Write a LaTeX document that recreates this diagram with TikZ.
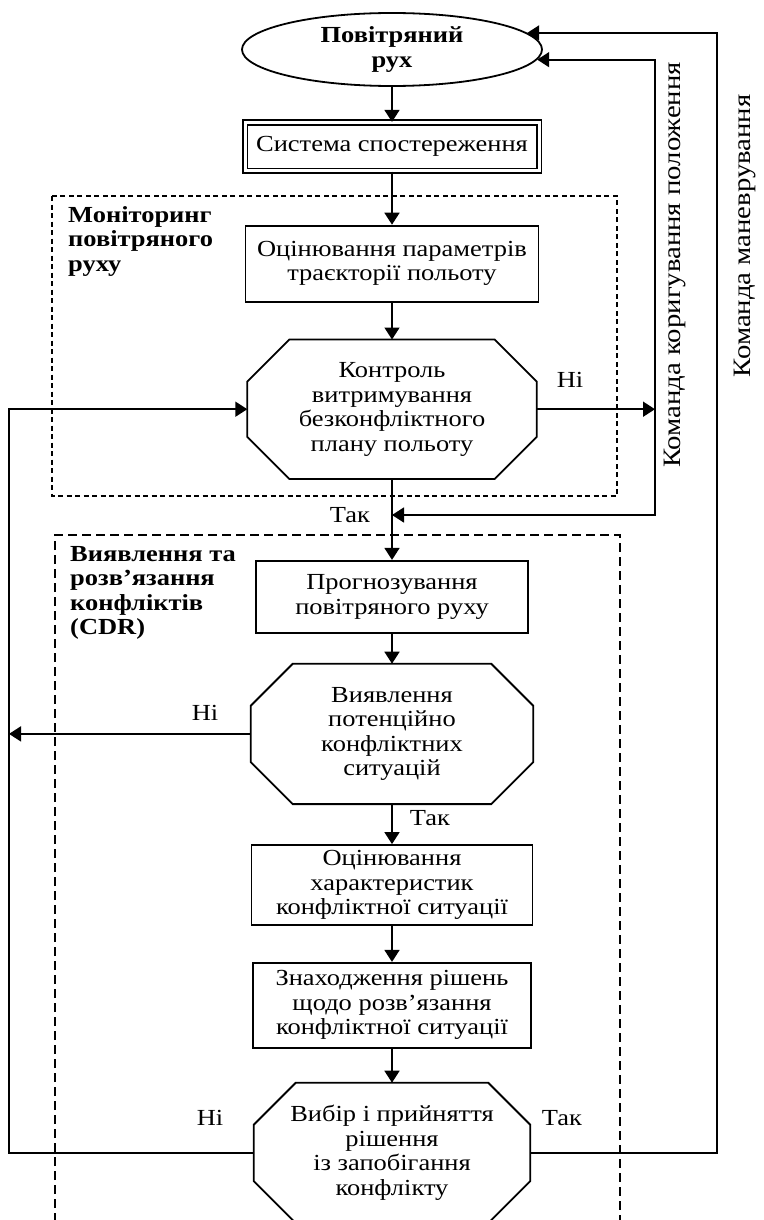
\documentclass[tikz,border=0pt]{standalone}
\usepackage{fontspec}
\setmainfont[FakeStretch=1.15]{Liberation Serif}
\usetikzlibrary{shapes,arrows.meta,positioning}
% octagon frame round a (rectangle) node
\newcommand{\octframe}[1]{\draw[line width=1.8pt]([xshift=42pt]#1.north west)--([xshift=-42pt]#1.north east)--([yshift=-42pt]#1.north east)--([yshift=42pt]#1.south east)--([xshift=-42pt]#1.south east)--([xshift=42pt]#1.south west)--([yshift=42pt]#1.south west)--([yshift=-42pt]#1.north west)--cycle;}

\begin{document}
\begin{tikzpicture}[x=1pt,y=-1pt,>={Triangle[length=12pt,width=15pt]},
  every node/.style={font=\fontsize{23}{24.5}\selectfont},
  block/.style={draw,rectangle,line width=1.8pt,align=center,inner sep=2pt},
  check/.style={rectangle,align=center,inner sep=0pt},
  group/.style={line width=1.2pt},
  conn/.style={line width=1.7pt},
  lbl/.style={inner sep=0pt}]
\useasboundingbox (0,0) rectangle (763,1220);
% main chain
\node[draw,ellipse,line width=1.8pt,minimum width=300pt,minimum height=73pt,inner sep=0pt,align=center,font=\bfseries\fontsize{23}{24.5}\selectfont](air) at (392,49.5){Повітряний\\рух};
\node[block,double,double distance=3pt,minimum width=294pt,minimum height=48pt,below=35pt of air](surv){Система спостереження};
\node[block,minimum width=293pt,minimum height=76pt,below=53pt of surv](est){Оцінювання параметрів\\траєкторії польоту};
\node[check,minimum width=289pt,minimum height=139pt,below=37pt of est](ctrl){Контроль\\витримування\\безконфліктного\\плану польоту};
\node[block,minimum width=272pt,minimum height=72pt,below=81pt of ctrl](pred){Прогнозування\\повітряного руху};
\node[check,minimum width=282pt,minimum height=140pt,below=30pt of pred](detect){Виявлення\\потенційно\\конфліктних\\ситуацій};
\node[block,minimum width=281pt,minimum height=80pt,below=40pt of detect](char){Оцінювання\\характеристик\\конфліктної ситуації};
\node[block,minimum width=278pt,minimum height=85pt,below=36pt of char](find){Знаходження рішень\\щодо розв’язання\\конфліктної ситуації};
\node[check,minimum width=276pt,minimum height=140pt,below=34pt of find](choose){Вибір і прийняття\\рішення\\із запобігання\\конфлікту};
\octframe{ctrl}
\octframe{detect}
\octframe{choose}
% groups
\draw[group,dash pattern=on 5pt off 3.5pt](52,196) rectangle (617,496);
\node[lbl,anchor=north west,align=left,font=\bfseries\fontsize{23}{24.5}\selectfont](monlbl) at (68,206){Моніторинг\\повітряного\\руху};
\draw[group,dash pattern=on 9pt off 5pt](55,1222) |- (620,535) -- (620,1222);
\node[lbl,anchor=north west,align=left,font=\bfseries\fontsize{23}{24.5}\selectfont](cdrlbl) at (70,546){Виявлення та\\розв’язання\\конфліктів\\(CDR)};
% connectors
\coordinate (rin) at (655,300);
\coordinate (rout) at (717,33);
\coordinate (lline) at (9,800);
\coordinate (join) at (392,515);
\draw[conn,->](air)--(surv);
\draw[conn,->](surv)--(est);
\draw[conn,->](est)--(ctrl);
\draw[conn,->](ctrl)--(pred);
\draw[conn,->](pred)--(detect);
\draw[conn,->](detect)--(char);
\draw[conn,->](char)--(find);
\draw[conn,->](find)--(choose);
\draw[conn,->](ctrl.east)--(ctrl.east -| rin);
\draw[conn,<->](air.-4) -| (rin) |- (join);
\draw[conn,->](choose.east) -| (rout) -- (air.7);
\draw[conn,->](choose.west) -| (lline) |- (ctrl.west);
\draw[conn,->](detect.west)--(detect.west -| lline);
% labels
\node[lbl](no1) at (570,380){Ні};
\node[lbl](yes1) at (350,515){Так};
\node[lbl](no2) at (205,713){Ні};
\node[lbl](yes2) at (430,818){Так};
\node[lbl](no3) at (210,1118){Ні};
\node[lbl](yes3) at (562,1118){Так};
\node[lbl,rotate=90,font=\fontsize{25}{26}\selectfont](corr) at (675,265){Команда коригування положення};
\node[lbl,rotate=90,font=\fontsize{25}{26}\selectfont](man) at (745,236){Команда маневрування};
\end{tikzpicture}
\end{document}
